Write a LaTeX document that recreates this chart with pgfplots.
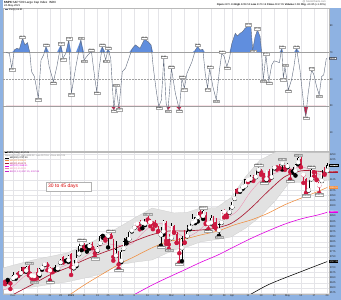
\documentclass[border=0pt]{standalone}
\usepackage{pgfplots}
\pgfplotsset{compat=1.18}
\usepackage{pgfplotstable}
\usepackage{fontspec}
\setmainfont{Liberation Sans}
\definecolor{frameblue}{RGB}{142,178,226}
\definecolor{rsiblue}{RGB}{96,142,222}
\definecolor{rsired}{RGB}{205,30,70}
\definecolor{rsiline}{RGB}{95,105,125}
\definecolor{candlered}{RGB}{205,25,65}
\definecolor{bbgray}{RGB}{226,226,226}
\definecolor{maorange}{RGB}{240,140,60}
\definecolor{macrimson}{RGB}{170,25,50}
\definecolor{mamagenta}{RGB}{225,0,225}
\definecolor{mapink}{RGB}{240,130,170}
\definecolor{gridc}{RGB}{228,228,232}
\newcommand{\fs}[1]{\fontsize{#1}{#1}\selectfont}

\tikzset{
  lblbox/.style={font=\fs{2.1}, inner sep=0.35bp, fill=white, draw=gray!70,
    line width=0.15bp, text=black!85,
    /pgf/number format/fixed, /pgf/number format/fixed zerofill,
    /pgf/number format/precision=2},
  vbox/.style={anchor=west, inner sep=0.4bp, font=\fs{2.3}},
}
\pgfplotsset{
  /pgf/number format/assume math mode=true,
  /pgf/number format/1000 sep={},
  panel/.style={scale only axis, width=326bp, xmin=-3.8, xmax=119.7,
    axis line style={draw=gray!55, line width=0.4bp},
    major tick length=0pt, minor tick length=0pt,
    xtick={0,4,9,14,18,22,27,32,36,41,46,51,55,60,65,70,75,80,83,89,94,99,104,109,114,119},
    xmajorgrids, grid style={draw=gridc, line width=0.3bp},
    yticklabel pos=right,
    yticklabel style={font=\fs{2.6}, inner sep=0.6bp, text=black!85},
    xticklabel style={font=\fs{2.6}, inner sep=0.6bp, text=black!85},
  },
  candle/.style={only marks, mark=none, error bars/.cd, y dir=plus, y explicit, error mark=none},
}

% RSI values (day index, value)
\pgfplotstableread{
d v
-2.6 70.12
-1.4 69.48
-0.5 58.31
0.5 72.06
1.5 73.27
2.4 72.55
3.6 80.72
4.5 75.84
5.5 77.46
6.4 69.52
7.0 55.83
8.1 52.07
9.6 35.81
10.6 64.47
11.6 68.33
12.5 74.58
13.7 59.46
15.3 48.29
16.6 59.51
18.1 75.83
18.9 65.77
20.0 69.45
21.1 79.54
22.1 39.52
23.8 59.48
25.7 79.61
26.9 64.46
28.4 68.31
29.7 70.84
30.9 52.03
31.7 40.81
32.7 59.47
33.8 74.53
35.1 64.49
36.0 72.52
37.0 65.79
38.2 27.03
39.0 44.47
40.1 28.33
41.4 55.78
42.6 58.32
43.9 65.81
45.2 73.28
46.4 75.82
48.1 73.29
49.8 80.06
51.1 78.31
52.3 75.79
53.1 59.47
54.3 40.83
55.2 29.52
56.2 34.49
57.1 65.83
58.0 32.04
58.7 26.97
60.0 58.29
61.5 39.51
63.0 27.05
64.0 50.81
64.9 43.27
65.9 54.52
67.8 63.28
69.1 72.03
69.9 74.56
70.9 71.97
71.9 72.48
72.8 54.53
73.7 43.31
74.5 58.27
75.7 44.52
77.0 34.48
78.2 57.04
79.1 69.53
80.0 67.02
81.0 59.49
82.0 65.82
82.9 76.98
84.2 84.53
85.0 82.47
86.0 84.51
87.0 85.82
87.9 88.27
89.2 90.04
90.1 89.48
90.8 72.03
91.7 81.96
92.6 87.04
93.6 82.03
94.2 69.51
94.8 49.52
95.8 68.28
96.9 48.33
98.0 60.78
98.9 63.82
99.9 63.27
100.9 62.51
101.8 73.31
102.4 50.79
103.0 59.48
104.3 42.04
105.5 49.53
106.4 59.46
107.4 73.28
108.7 57.03
110.2 29.52
110.9 22.03
111.8 39.48
113.1 57.02
114.0 53.31
115.0 44.49
116.0 38.27
116.9 52.04
117.7 53.32
118.7 65.81
}\rsidata

\pgfplotstableread{
d v
3.6 80.72
12.5 74.58
18.1 75.83
21.1 79.54
25.7 79.61
29.7 70.84
33.8 74.53
36.0 72.52
39.0 44.47
49.8 80.06
57.1 65.83
60.0 58.29
64.0 50.81
69.9 74.56
74.5 58.27
79.1 69.53
89.2 90.04
92.6 87.04
95.8 68.28
101.8 73.31
103.0 59.48
107.4 73.28
113.1 57.02
}\rsipeaks

\pgfplotstableread{
d v
-0.5 58.31
9.6 35.81
15.3 48.29
18.9 65.77
22.1 39.52
26.9 64.46
31.7 40.81
35.1 64.49
38.2 27.03
40.1 28.33
55.2 29.52
58.7 26.97
63.0 27.05
64.9 43.27
73.7 43.31
77.0 34.48
81.0 59.49
90.8 72.03
94.8 49.52
96.9 48.33
102.4 50.79
104.3 42.04
110.9 22.03
116.0 38.27
}\rsitroughs

% daily candles: day index, open, high, low, close,
% r = 1 when the close is below the previous close, f = 1 when the close is below the open
\pgfplotstableread{
d o h l c r f
-3 3635.5 3635.5 3617.8 3629.7 1 1
-2 3638.6 3644.3 3629.3 3638.4 0 1
-1 3634.2 3634.2 3594.4 3621.6 1 1
0 3645.9 3678.5 3645.9 3662.5 0 0
1 3653.8 3670.9 3644.8 3669.0 0 0
2 3668.3 3682.7 3657.2 3666.7 1 1
3 3670.9 3699.2 3670.9 3699.1 0 0
4 3694.7 3697.4 3678.9 3692.0 1 1
5 3683.0 3708.5 3678.8 3702.3 0 0
6 3705.9 3712.4 3660.5 3672.8 1 1
7 3659.1 3678.5 3645.2 3668.1 1 0
8 3656.1 3665.9 3633.4 3663.5 1 0
9 3675.3 3697.6 3645.8 3647.5 1 1
10 3666.4 3695.3 3659.6 3694.6 0 0
11 3696.3 3711.3 3688.6 3701.2 0 0
12 3713.7 3725.1 3710.9 3722.5 0 0
13 3722.4 3726.7 3685.8 3709.4 1 1
14 3684.3 3702.9 3636.5 3694.9 1 0
15 3698.1 3698.3 3676.2 3687.3 1 1
16 3693.4 3711.2 3689.3 3690.0 0 1
17 3694.0 3703.8 3689.3 3703.1 0 0
18 3723.0 3740.5 3723.0 3735.4 0 0
19 3750.0 3756.1 3723.3 3727.0 1 1
20 3736.2 3744.6 3730.2 3732.0 0 1
21 3733.3 3760.2 3726.9 3756.1 0 0
22 3764.6 3769.9 3662.7 3700.7 1 1
23 3698.0 3737.8 3695.1 3726.9 0 0
24 3712.2 3783.0 3705.3 3748.1 0 0
25 3764.7 3811.6 3764.7 3803.8 0 0
26 3815.1 3826.7 3783.6 3824.7 0 0
27 3803.1 3817.9 3789.0 3799.6 1 1
28 3801.6 3810.8 3776.5 3801.2 0 1
29 3802.2 3820.9 3791.5 3809.8 0 0
30 3814.0 3823.6 3792.9 3795.5 1 1
31 3788.7 3788.7 3749.6 3768.3 1 1
32 3781.9 3804.5 3780.4 3798.9 0 0
33 3816.2 3859.8 3816.2 3851.9 0 0
34 3857.5 3861.5 3845.1 3853.1 0 1
35 3844.2 3852.3 3830.4 3841.5 1 1
36 3851.7 3859.2 3797.2 3855.4 0 0
37 3862.9 3870.9 3847.8 3849.6 1 1
38 3836.8 3836.8 3732.5 3750.8 1 1
39 3755.8 3830.5 3755.8 3787.4 0 0
40 3778.1 3778.1 3694.1 3714.2 1 1
41 3731.2 3784.3 3725.6 3773.9 0 0
42 3791.8 3843.1 3791.8 3826.3 0 0
43 3840.3 3847.5 3816.7 3830.2 0 1
44 3836.7 3872.4 3836.7 3871.7 0 0
45 3878.3 3894.6 3874.9 3886.8 0 0
46 3892.6 3915.8 3892.6 3915.6 0 0
47 3910.5 3918.4 3902.6 3911.2 1 0
48 3920.8 3931.5 3884.9 3909.9 1 1
49 3916.4 3925.9 3890.4 3916.4 0 0
50 3911.7 3937.2 3905.8 3934.8 0 0
51 3939.6 3950.4 3923.9 3932.6 1 1
52 3918.5 3933.6 3900.4 3931.3 1 0
53 3915.9 3921.0 3885.7 3914.0 1 1
54 3921.2 3930.4 3903.1 3906.7 1 1
55 3885.6 3902.9 3874.7 3876.5 1 1
56 3857.1 3895.9 3805.6 3881.4 0 0
57 3873.7 3928.7 3859.6 3925.4 0 0
58 3915.8 3925.0 3814.0 3829.3 1 1
59 3839.7 3861.1 3789.5 3811.2 1 1
60 3842.5 3914.5 3842.5 3901.8 0 0
61 3903.6 3906.4 3868.6 3870.3 1 1
62 3863.9 3874.5 3818.9 3819.7 1 1
63 3818.5 3843.7 3723.3 3768.5 1 1
64 3793.6 3851.7 3730.2 3841.9 0 0
65 3844.4 3881.1 3819.3 3821.4 1 1
66 3851.9 3903.8 3851.9 3875.4 0 0
67 3891.9 3917.4 3885.7 3898.8 0 0
68 3915.5 3960.3 3915.5 3939.3 0 0
69 3924.5 3944.9 3915.2 3943.3 0 0
70 3942.9 3970.1 3923.5 3968.9 0 0
71 3973.6 3981.0 3953.4 3962.7 1 1
72 3949.6 3983.9 3935.7 3974.1 0 0
73 3953.5 3969.6 3910.9 3915.5 1 1
74 3913.1 3919.0 3885.7 3913.1 1 0
75 3916.5 3955.3 3914.2 3940.6 0 0
76 3937.6 3949.1 3901.6 3910.5 1 1
77 3919.9 3942.1 3889.1 3889.1 1 1
78 3879.3 3919.5 3853.5 3909.5 0 0
79 3917.1 3978.2 3917.1 3974.5 0 0
80 3969.3 3981.8 3943.3 3971.1 1 0
81 3963.3 3968.0 3944.4 3958.6 1 1
82 3967.3 3994.4 3966.9 3972.9 0 0
83 3992.8 4020.6 3992.8 4019.9 0 0
84 4034.4 4083.4 4034.4 4077.9 0 0
85 4075.6 4086.2 4068.1 4073.9 1 1
86 4074.3 4083.1 4068.3 4080.0 0 0
87 4089.9 4098.2 4082.5 4097.2 0 0
88 4096.1 4129.5 4095.5 4128.8 0 0
89 4124.7 4131.8 4114.8 4128.0 1 0
90 4130.1 4148.0 4124.4 4141.6 0 0
91 4141.6 4151.7 4120.9 4124.7 1 1
92 4139.8 4173.5 4139.8 4170.4 0 0
93 4174.1 4191.3 4171.0 4185.5 0 0
94 4179.8 4180.8 4150.5 4163.3 1 1
95 4159.2 4159.2 4118.4 4134.9 1 1
96 4128.4 4175.0 4126.4 4173.4 0 0
97 4170.5 4179.6 4123.7 4135.0 1 1
98 4138.8 4194.2 4138.8 4180.2 0 0
99 4185.0 4194.2 4182.4 4187.6 0 0
100 4188.3 4193.4 4176.2 4186.7 1 1
101 4185.1 4201.5 4181.8 4183.2 1 1
102 4206.1 4218.8 4176.8 4211.5 0 0
103 4198.1 4198.1 4174.9 4181.2 1 1
104 4191.9 4209.4 4188.0 4192.7 0 0
105 4179.0 4179.0 4128.6 4164.7 1 1
106 4177.1 4187.7 4160.9 4167.6 0 1
107 4169.1 4202.7 4147.3 4201.6 0 0
108 4210.3 4238.0 4201.6 4232.6 0 0
109 4228.3 4236.4 4188.1 4188.4 1 1
110 4150.3 4162.0 4111.5 4152.1 1 0
111 4130.6 4134.7 4056.9 4063.0 1 1
112 4074.9 4131.6 4074.9 4112.5 0 0
113 4129.6 4183.1 4129.6 4173.9 0 0
114 4169.9 4171.9 4142.7 4163.3 1 1
115 4165.9 4169.1 4125.0 4127.8 1 1
116 4098.5 4116.9 4061.4 4115.7 1 0
117 4121.0 4172.8 4121.0 4159.1 0 0
118 4168.6 4188.7 4151.7 4155.9 1 1
119 4170.2 4209.5 4170.2 4197.1 0 0
}\candles

% Bollinger band outline: upper edge left to right, then lower edge right to left
\pgfplotstableread{
d p
-3.8 3697
7.6 3736
20.5 3770
29 3819
34 3850
40 3895
46 3940
52.7 3989
61 3965
66 3968
71 3989
77 3990
82.6 4040
88 4140
93.6 4223
99.6 4262
104.5 4262
111 4258
119.7 4258
119.7 4126
111 4116
104.5 4111
99.6 4028
93.6 3946
88 3890
82.6 3848
77 3835
71 3824
66 3800
61 3785
52.7 3736
46 3725
40 3712
34 3670
29 3653
20.5 3629
7.6 3604
-3.8 3590
}\bbpoly

\pgfplotstableread{
d v
-3.8 3540
0 3567
8.1 3622
14.4 3666
21 3700
27 3736
33.3 3768
40 3799
46 3828
52.3 3858
59 3877
64.9 3877
71.2 3882
76.3 3890
82 3910
86.4 3947
91.4 4004
96.5 4069
103 4142
109.1 4170
114.2 4170
119 4163
}\maTwenty

\pgfplotstableread{
d v
-3.8 3590
0 3608
5 3662
10 3678
15 3686
20 3710
25 3732
30 3777
35 3814
40 3807
45 3815
50 3878
55 3915
60 3891
65 3847
70 3875
75 3933
80 3936
85 3976
90 4068
95 4135
100 4162
105 4180
110 4188
115 4158
119 4142
}\maTen

\pgfplotstableread{
d v
19.5 3549
27.0 3614
33.3 3663
40.9 3720
46.0 3752
52.3 3793
58.6 3825
66.2 3842
71.2 3858
77.6 3877
83.9 3907
90.2 3931
96.5 3963
102.8 4004
109.1 4037
115.4 4069
119 4089
}\maFifty

\pgfplotstableread{
d v
42.2 3541
52.3 3611
58.6 3650
64.9 3687
71.2 3725
77.6 3760
83.9 3801
90.2 3841
96.5 3877
102.8 3910
109.1 3936
115.4 3955
119 3968
}\maHundred

\pgfplotstableread{
d v
86.4 3541
96.5 3614
109.1 3679
119 3728
}\maTwoHundred

\pgfplotstableread{
d v
6 3712.39
26 3826.69
37 3870.90
51 3950.43
72 3983.87
93 4191.31
102 4218.78
108 4238.04
113 4183.13
}\pxhighs

\pgfplotstableread{
d v
8 3633.40
14 3636.48
31 3749.63
40 3694.12
56 3805.59
59 3789.54
63 3723.34
74 3885.73
78 3853.50
95 4118.38
105 4128.59
111 4056.88
116 4061.41
}\pxlows

\begin{document}
\begin{tikzpicture}
\useasboundingbox (0,0) rectangle (341bp,300bp);
\fill[white] (0,0) rectangle (341bp,300bp);
\fill[frameblue] (0,0) rectangle (3bp,300bp);
\fill[frameblue] (329bp,0) rectangle (341bp,292bp);
\fill[frameblue] (0,0) rectangle (341bp,6bp);

% ---------------- RSI panel ----------------
\begin{axis}[panel, at={(3bp,149bp)}, anchor=south west, height=143bp,
  ymin=-3.8, ymax=103.5, ytick={10,30,50,70,90}, xticklabels={}]
\addplot[fill=rsiblue, draw=none] table[x=d, y expr={max(\thisrow{v},70)}] {\rsidata}
  -- (axis cs:118.7,70) -- (axis cs:-2.6,70) -- cycle;
\addplot[fill=rsired, draw=none] table[x=d, y expr={min(\thisrow{v},30)}] {\rsidata}
  -- (axis cs:118.7,30) -- (axis cs:-2.6,30) -- cycle;
\addplot[gray!75, line width=0.45bp] coordinates {(-5,70) (121,70)};
\addplot[gray!75, line width=0.45bp] coordinates {(-5,30) (121,30)};
\addplot[gray!75, line width=0.45bp, dash pattern=on 2bp off 1bp] coordinates {(-5,50) (121,50)};
\addplot[rsiline, line width=0.4bp] table {\rsidata};
\addplot[draw=none, mark=none, nodes near coords, point meta=y,
  nodes near coords style={lblbox, anchor=south, yshift=0.2bp}] table {\rsipeaks};
\addplot[draw=none, mark=none, nodes near coords, point meta=y,
  nodes near coords style={lblbox, anchor=north, yshift=-0.2bp}] table {\rsitroughs};
\coordinate (rsival) at (axis cs:119.7,65.81);
\end{axis}
\node[vbox, fill=white, draw=rsiline, line width=0.2bp] at (rsival) {65.81};

% ---------------- Price panel ----------------
\begin{axis}[panel, at={(3bp,6bp)}, anchor=south west, height=142bp,
  ymin=3570, ymax=4262,
  ytick={3575,3600,3625,3650,3675,3700,3750,3775,3800,3825,3850,3875,3900,3925,3950,4000,4025,4050,4075,4125,4225,4250},
  ymajorgrids,
  xticklabels={Dec,7,14,21,28,\textbf{2021},11,19,25,Feb,8,16,22,Mar,8,15,22,29,Apr,12,19,26,May,10,17,24}]
\addplot[fill=bbgray, draw=gray!40, line width=0.25bp] table[x=d,y=p] {\bbpoly} -- cycle;
\addplot[black, line width=0.55bp, smooth] table {\maTwoHundred};
\addplot[mamagenta, line width=0.6bp, smooth] table {\maHundred};
\addplot[maorange, line width=0.55bp, smooth] table {\maFifty};
\addplot[mapink, line width=0.3bp, smooth] table {\maTen};
\addplot[macrimson, line width=0.65bp, smooth] table {\maTwenty};

% wicks (low to high); candles of the other colour are moved far outside the axis and clipped
\addplot[candlered, candle, error bar style={candlered, line width=0.3bp}]
  table[x=d, y expr={\thisrow{l}+2000*(1-\thisrow{r})}, y error expr={\thisrow{h}-\thisrow{l}}] {\candles};
\addplot[black, candle, error bar style={black, line width=0.3bp}]
  table[x=d, y expr={\thisrow{l}+2000*\thisrow{r}}, y error expr={\thisrow{h}-\thisrow{l}}] {\candles};
% bodies (open to close)
\addplot[candlered, candle, error bar style={candlered, line width=1.65bp}]
  table[x=d, y expr={min(\thisrow{o},\thisrow{c})+2000*(1-\thisrow{r})}, y error expr={max(abs(\thisrow{c}-\thisrow{o}),1.2)}] {\candles};
\addplot[black, candle, error bar style={black, line width=1.65bp}]
  table[x=d, y expr={min(\thisrow{o},\thisrow{c})+2000*\thisrow{r}}, y error expr={max(abs(\thisrow{c}-\thisrow{o}),1.2)}] {\candles};
% hollow bodies for closes above the open
\addplot[white, candle, error bar style={white, line width=1.0bp}]
  table[x=d, y expr={min(\thisrow{o},\thisrow{c})+1.5+2000*\thisrow{f}}, y error expr={max(abs(\thisrow{c}-\thisrow{o})-3,0)}] {\candles};

\addplot[draw=none, mark=none, nodes near coords, point meta=y,
  nodes near coords style={lblbox, anchor=south, yshift=0.3bp}] table {\pxhighs};
\addplot[draw=none, mark=none, nodes near coords, point meta=y,
  nodes near coords style={lblbox, anchor=north, yshift=-0.3bp}] table {\pxlows};
\coordinate (pA) at (axis cs:119.7,4197.05);
\coordinate (pB) at (axis cs:119.7,4163.72);
\coordinate (pC) at (axis cs:119.7,4089.52);
\coordinate (pD) at (axis cs:119.7,3968.91);
\coordinate (pE) at (axis cs:119.7,3727.39);
\end{axis}
\node[vbox, fill=white, draw=black, line width=0.2bp] at (pA) {4197.05};
\node[vbox, fill=macrimson, text=white] at (pB) {4163.72};
\node[vbox, fill=maorange, text=white] at (pC) {4089.52};
\node[vbox, fill=mamagenta, text=white] at (pD) {3968.91};
\node[vbox, fill=black, text=white] at (pE) {3727.39};

% ---------------- header and legends ----------------
\node[anchor=west, inner sep=0, font=\fs{3}] at (4bp,297.6bp) {\textbf{\$SPX} S\&P 500 Large Cap Index \ INDX};
\node[anchor=west, inner sep=0, font=\fs{2.7}] at (4bp,294.6bp) {24-May-2021};
\node[anchor=east, inner sep=0, font=\fs{2.6}, text=gray] at (326bp,298.2bp) {@ StockCharts.com};
\node[anchor=east, inner sep=0, font=\fs{2.6}] at (326bp,294.8bp) {\textbf{Open} 4170.16 \textbf{High} 4209.52 \textbf{Low} 4170.16 \textbf{Close} 4197.05 \textbf{Volume} 2.0B \textbf{Chg} +41.85 (+1.00\%)};
\node[anchor=west, inner sep=0, font=\fs{2.4}] at (5bp,290.6bp) {\textcolor{rsiline}{\rule[0.6bp]{3bp}{0.45bp}} RSI(5) 65.81};

\begin{scope}[every node/.style={anchor=west, inner sep=0, font=\fs{2.3}}]
\node at (5bp,147.2bp) {\rule{1.4bp}{1.4bp}\ \textbf{\$SPX} (Daily) 4197.05};
\node[text=gray] at (5bp,144.5bp) {Open 4170.16 \ High 4209.52 \ Low 4170.16 \ Close 4197.05};
\node at (5bp,141.8bp) {\rule[0.6bp]{4bp}{0.5bp} MA(200) 3727.39};
\node[text=maorange] at (5bp,139.1bp) {\rule[0.6bp]{4bp}{0.5bp} MA(50) 4089.52};
\node[text=macrimson] at (5bp,136.4bp) {\rule[0.6bp]{4bp}{0.5bp} MA(20) 4163.72};
\node[text=mamagenta] at (5bp,133.7bp) {\rule[0.6bp]{4bp}{0.5bp} MA(100) 3968.91};
\node[text=mapink] at (5bp,131.0bp) {\rule[0.6bp]{4bp}{0.5bp} MA(10) 4142.20};
\node[text=mamagenta!70!gray] at (5bp,128.3bp) {\rule[0.6bp]{4bp}{0.5bp} BB(20,2.0) 4237.25, 4097.88};
\end{scope}

\draw[gray!60, line width=0.3bp, fill=white] (45.7bp,109.3bp) rectangle (90.7bp,117.7bp);
\node[anchor=west, inner sep=0, font=\fs{5}, text=red!85!black] at (48bp,113.5bp) {30 to 45 days};
\end{tikzpicture}
\end{document}
